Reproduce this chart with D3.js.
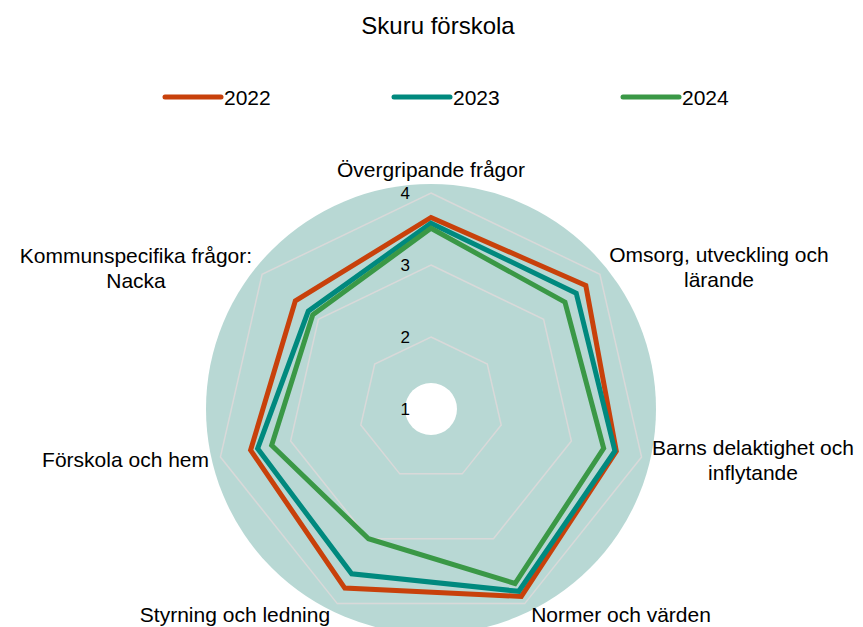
<!DOCTYPE html>
<html>
<head>
<meta charset="utf-8">
<script src="https://cdn.jsdelivr.net/npm/d3@7"></script>
<style>
  body { margin: 0; background: #fff; }
  svg { font-family: "Liberation Sans", Arial, sans-serif; }
</style>
</head>
<body>
<script>
var categories = [
  ['Övergripande frågor'],
  ['Omsorg, utveckling och', 'lärande'],
  ['Barns delaktighet och', 'inflytande'],
  ['Normer och värden'],
  ['Styrning och ledning'],
  ['Förskola och hem'],
  ['Kommunspecifika frågor:', 'Nacka']
];
var years = ['2022', '2023', '2024'];
var values2022 = [3.66, 3.75, 3.64, 3.89, 3.76, 3.57, 3.41];
var values2023 = [3.58, 3.58, 3.62, 3.81, 3.54, 3.47, 3.18];
var values2024 = [3.51, 3.38, 3.46, 3.69, 3.00, 3.27, 3.10];
var ticks = [1, 2, 3, 4];

var colors = ['#c8410b', '#00897e', '#3a9846'];
var series = [values2022, values2023, values2024];

var width = 863, height = 627;
var cx = 431, cy = 409;

var svg = d3.select('body').append('svg')
            .attr('width', width)
            .attr('height', height);

var r = d3.scaleLinear().domain([1, 4]).range([0, 216]);
var angle = function(i){ return i * 2 * Math.PI / categories.length; };

svg.append('text')
   .attr('x', 438).attr('y', 34)
   .attr('text-anchor', 'middle')
   .style('font-size', '24px')
   .text('Skuru förskola');

// legend
var legend = svg.selectAll('g.legend').data(years).enter()
    .append('g').attr('class', 'legend')
    .attr('transform', function(d, i){ return 'translate(' + (165 + i * 229) + ',97)'; });
legend.append('line')
      .attr('x1', 0).attr('x2', 56).attr('y1', 0).attr('y2', 0)
      .attr('stroke', function(d, i){ return colors[i]; })
      .attr('stroke-width', 5)
      .attr('stroke-linecap', 'round');
legend.append('text')
      .attr('x', 59).attr('y', 7.5)
      .style('font-size', '21px')
      .text(function(d){ return d; });

var g = svg.append('g').attr('transform', 'translate(' + cx + ',' + cy + ')');

g.append('circle').attr('r', 225).attr('fill', '#b8d8d4');
g.append('circle').attr('r', 26).attr('fill', '#fff');

// grid heptagons
var grid = d3.lineRadial().curve(d3.curveLinearClosed)
             .angle(function(d, i){ return angle(i); })
             .radius(function(d){ return r(d); });
g.selectAll('path.grid').data(ticks.slice(1)).enter()
  .append('path').attr('class', 'grid')
  .attr('d', function(t){ return grid(categories.map(function(){ return t; })); })
  .attr('fill', 'none')
  .attr('stroke', '#d9d9d9')
  .attr('stroke-width', 1.5);

// tick labels
g.selectAll('text.tick').data(ticks).enter()
  .append('text').attr('class', 'tick')
  .attr('x', -21)
  .attr('y', function(d){ return -r(d) + 6; })
  .attr('text-anchor', 'end')
  .style('font-size', '17px')
  .text(function(d){ return d; });

// series
g.selectAll('path.series').data(series).enter()
  .append('path').attr('class', 'series')
  .attr('d', grid)
  .attr('fill', 'none')
  .attr('stroke', function(d, i){ return colors[i]; })
  .attr('stroke-width', 5)
  .attr('stroke-linejoin', 'miter');

// category labels (hand placed like the excel output)
var labelPos = [[431, 177], [719, 262], [753, 455], [621, 622], [235, 622], [209, 467], [136, 263]];
var anchors = ['middle', 'middle', 'middle', 'middle', 'middle', 'end', 'middle'];
svg.selectAll('text.cat').data(categories).enter()
  .append('text').attr('class', 'cat')
  .attr('x', function(d, i){ return labelPos[i][0]; })
  .attr('y', function(d, i){ return labelPos[i][1]; })
  .attr('text-anchor', function(d, i){ return anchors[i]; })
  .style('font-size', '21px')
  .each(function(d, i){
    var t = d3.select(this);
    d.forEach(function(line, k){
      t.append('tspan')
       .attr('x', labelPos[i][0])
       .attr('dy', k === 0 ? 0 : 24.5)
       .text(line);
    });
  });
</script>
</body>
</html>
